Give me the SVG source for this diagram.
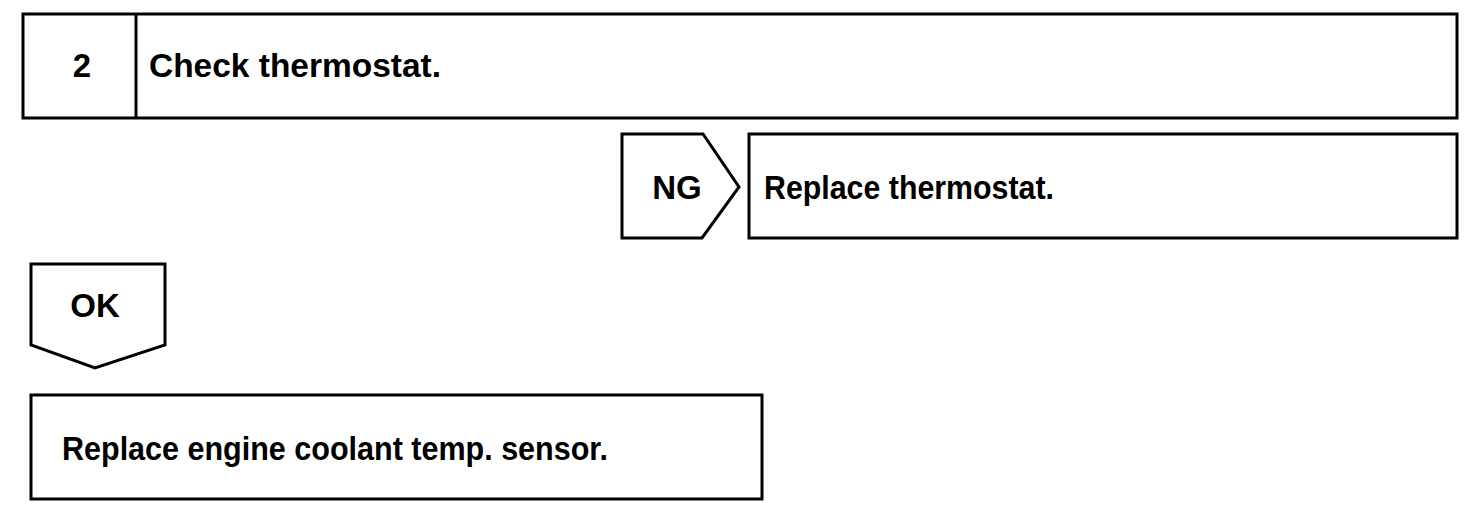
<svg xmlns="http://www.w3.org/2000/svg" width="1472" height="528" viewBox="0 0 1472 528">
<style>
.b{fill:#fff;stroke:#000;stroke-width:3;stroke-linejoin:miter}
.t{font-family:"Liberation Sans",Arial,sans-serif;font-weight:bold;font-size:33px;fill:#000}
</style>
<rect width="1472" height="528" fill="#fff"/>
<g id="step2">
<rect class="b" x="23" y="14" width="1434" height="104"/>
<line class="b" x1="136" y1="14" x2="136" y2="118"/>
<text class="t" x="82" y="77" text-anchor="middle">2</text>
<text class="t" x="149" y="77" textLength="292" lengthAdjust="spacingAndGlyphs">Check thermostat.</text>
</g>
<g id="ng">
<path class="b" d="M622,134 H703 L739,187 L702,238 H622 Z"/>
<text class="t" x="677" y="199" text-anchor="middle">NG</text>
</g>
<g id="replace-thermostat">
<rect class="b" x="749" y="134" width="708" height="104"/>
<text class="t" x="764" y="199" textLength="290" lengthAdjust="spacingAndGlyphs">Replace thermostat.</text>
</g>
<g id="ok">
<path class="b" d="M31,264 H165 V345 L95,368 L31,345 Z"/>
<text class="t" x="95" y="317" text-anchor="middle">OK</text>
</g>
<g id="replace-sensor">
<rect class="b" x="31" y="395" width="731" height="104"/>
<text class="t" x="62" y="460" textLength="546" lengthAdjust="spacingAndGlyphs">Replace engine coolant temp. sensor.</text>
</g>
<g id="connectors"></g>
</svg>
